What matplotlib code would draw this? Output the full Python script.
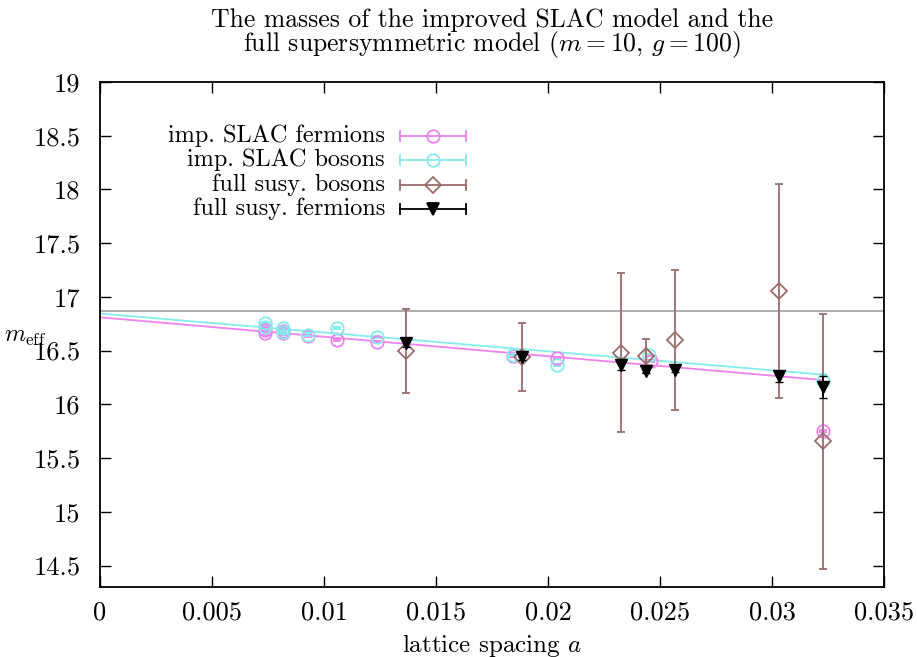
import numpy as np
import matplotlib
matplotlib.use('Agg')
import matplotlib.pyplot as plt

plt.rcParams['font.family'] = 'serif'
plt.rcParams['font.serif'] = ['cmr10', 'DejaVu Serif']
plt.rcParams['mathtext.fontset'] = 'cm'
plt.rcParams['axes.formatter.use_mathtext'] = True

# improved SLAC model
slac_f_a = [0.00737, 0.00737, 0.00817, 0.00817, 0.00929, 0.01058, 0.01237, 0.01844, 0.0204, 0.0246, 0.03228]
slac_f_m = [16.66, 16.69, 16.66, 16.68, 16.64, 16.60, 16.58, 16.45, 16.43, 16.40, 15.75]
slac_f_e = [0.01] * len(slac_f_a)
slac_b_a = [0.00737, 0.00737, 0.00817, 0.00817, 0.00929, 0.01058, 0.01237, 0.01844, 0.0204, 0.0245, 0.03228]
slac_b_m = [16.76, 16.72, 16.71, 16.67, 16.65, 16.71, 16.63, 16.46, 16.37, 16.46, 16.22]
slac_b_e = [0.01, 0.01, 0.01, 0.01, 0.01, 0.01, 0.01, 0.01, 0.01, 0.01, 0.06]

# full supersymmetric model
susy_a = [0.01366, 0.01884, 0.02326, 0.02438, 0.02567, 0.03031, 0.03228]
susy_b_m = [16.50, 16.44, 16.48, 16.45, 16.60, 17.055, 15.655]
susy_b_e = [0.39, 0.32, 0.74, 0.16, 0.65, 1.0, 1.185]
susy_f_m = [16.57, 16.44, 16.37, 16.31, 16.32, 16.26, 16.16]
susy_f_e = [0.04, 0.03, 0.05, 0.02, 0.02, 0.05, 0.10]

# linear continuum fits (intercept, slope) and continuum mass
fit_f = (16.81, -18.1)
fit_b = (16.845, -17.6)
fit_end = 0.03228
m_cont = 16.865

c_f = '#ee82ee'
c_b = '#85ecec'
c_sb = '#9c6b6b'
c_sf = 'black'

fig = plt.figure(figsize=(9.17, 6.57), dpi=100)
ax = fig.add_axes([100/917, 70/657, 784/917, 505/657])

ax.axhline(m_cont, color='#a0a0a0', lw=1.2, zorder=1)
xf = np.array([0, fit_end])
ax.plot(xf, fit_f[0] + fit_f[1]*xf, color=c_f, lw=1.3, zorder=2)
ax.plot(xf, fit_b[0] + fit_b[1]*xf, color=c_b, lw=1.3, zorder=2)

ekw = dict(ls='none', capsize=3, elinewidth=1.3, capthick=1.3)
ax.errorbar(slac_f_a, slac_f_m, yerr=slac_f_e, color=c_f, marker='o', ms=9, mfc='none', mew=1.3, zorder=3, **ekw)
ax.errorbar(slac_b_a, slac_b_m, yerr=slac_b_e, color=c_b, marker='o', ms=9, mfc='none', mew=1.3, zorder=3, **ekw)
ax.errorbar(susy_a, susy_b_m, yerr=susy_b_e, color=c_sb, marker='D', ms=8, mfc='none', mew=1.3, zorder=4, **ekw)
ax.errorbar(susy_a, susy_f_m, yerr=susy_f_e, color=c_sf, marker='v', ms=9, mew=1, zorder=5, **ekw)

ax.set_xlim(0, 0.035)
ax.set_ylim(14.3, 19)
ax.set_xticks(np.arange(0, 0.0351, 0.005))
ax.set_xticklabels(['0', '0.005', '0.01', '0.015', '0.02', '0.025', '0.03', '0.035'])
ax.set_yticks(np.arange(14.5, 19.01, 0.5))
ax.set_yticklabels(['14.5', '15', '15.5', '16', '16.5', '17', '17.5', '18', '18.5', '19'])
ax.tick_params(direction='in', length=8, width=1, top=True, right=True, labelsize=19)
ax.tick_params(axis='x', pad=10)
ax.tick_params(axis='y', pad=14)
for s in ax.spines.values():
    s.set_linewidth(1.3)

ax.set_xlabel('lattice spacing $a$', fontsize=18, labelpad=5)
ax.set_ylabel(r'$m_{\rm eff}$', fontsize=17.5, rotation=0, ha='right', va='center')
ax.yaxis.set_label_coords(-0.069, 0.495)
ax.set_title('The masses of the improved SLAC model and the\nfull supersymmetric model ($m = 10$, $g = 100$)',
             fontsize=18.5, linespacing=0.9, pad=22)

# gnuplot-style key: right-aligned text, sample on the right
labels = ['imp. SLAC fermions', 'imp. SLAC bosons', 'full susy. bosons', 'full susy. fermions']
styles = [(c_f, 'o', 'none', 9), (c_b, 'o', 'none', 9), (c_sb, 'D', 'none', 8), (c_sf, 'v', c_sf, 9)]
rows_px = [136, 160, 185, 209]
for lab, (col, mk, mfc, ms), ypx in zip(labels, styles, rows_px):
    yy = (587 - ypx) / 505
    ax.text((385 - 100) / 784, yy, lab, transform=ax.transAxes, ha='right', va='center', fontsize=17.5)
    x0, x1 = (400 - 100) / 784, (466 - 100) / 784
    ax.plot([x0, x1], [yy, yy], color=col, lw=1.3, transform=ax.transAxes, clip_on=False)
    ax.plot([x0, x0], [yy - 0.01, yy + 0.01], color=col, lw=1.3, transform=ax.transAxes)
    ax.plot([x1, x1], [yy - 0.01, yy + 0.01], color=col, lw=1.3, transform=ax.transAxes)
    ax.plot([(x0 + x1) / 2], [yy], marker=mk, ms=ms, mfc=mfc, mec=col, mew=1.3, color=col, transform=ax.transAxes)

fig.savefig('out.png', dpi=100)
